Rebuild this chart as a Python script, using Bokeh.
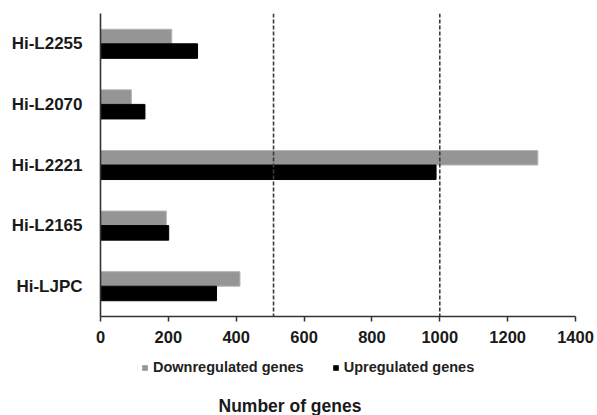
from bokeh.plotting import figure
from bokeh.layouts import column
from bokeh.models import (Range1d, FactorRange, Span, Legend, LegendItem, Title,
                          ColumnDataSource, FixedTicker)
from bokeh.transform import dodge
from bokeh.embed import file_html
from bokeh.resources import INLINE

strains = ["Hi-LJPC", "Hi-L2165", "Hi-L2221", "Hi-L2070", "Hi-L2255"]
downregulated = [411, 194, 1289, 91, 210]
upregulated = [342, 201, 989, 131, 286]
threshold_lines = [510, 1000]
x_ticks = [0, 200, 400, 600, 800, 1000, 1200, 1400]
series_names = ["Downregulated genes", "Upregulated genes"]
series_colors = ["#959595", "#000000"]

FONT = "Liberation Sans"

src = ColumnDataSource(dict(strain=strains, down=downregulated, up=upregulated))

p = figure(width=597, height=348, output_backend="svg", toolbar_location=None,
           y_range=FactorRange(*strains), x_range=Range1d(0, 1400),
           min_border_left=100, min_border_right=22, min_border_top=13,
           min_border_bottom=32)
p.outline_line_color = None
p.xgrid.visible = False
p.ygrid.visible = False

p.hbar(y=dodge("strain", 0.12, range=p.y_range), right="down", left=0,
       height=0.24, source=src, fill_color=series_colors[0], line_color="#b5b5b5",
       line_width=1)
p.hbar(y=dodge("strain", -0.12, range=p.y_range), right="up", left=0,
       height=0.24, source=src, fill_color=series_colors[1], line_color="#000000",
       line_width=1)

for loc in threshold_lines:
    p.add_layout(Span(location=loc, dimension="height", line_color="#3a3a3a",
                      line_width=1.6, line_dash="4 2"))

xa = p.xaxis[0]
xa.ticker = FixedTicker(ticks=x_ticks)
xa.axis_line_color = "#333333"
xa.axis_line_width = 1.6
xa.major_tick_line_color = "#333333"
xa.major_tick_line_width = 1.5
xa.major_tick_out = 5
xa.major_tick_in = 0
xa.minor_tick_line_color = None
xa.major_label_text_font = FONT
xa.major_label_text_font_style = "bold"
xa.major_label_text_font_size = "16.5px"
xa.major_label_text_color = "#1a1a1a"
xa.major_label_standoff = 9

ya = p.yaxis[0]
ya.axis_line_color = "#333333"
ya.axis_line_width = 1.6
ya.major_tick_line_color = None
ya.minor_tick_line_color = None
ya.major_label_text_font = FONT
ya.major_label_text_font_style = "bold"
ya.major_label_text_font_size = "17px"
ya.major_label_text_color = "#1a1a1a"
ya.major_label_standoff = 12

# legend + axis title strip (frame is aligned with the main plot's frame)
p2 = figure(width=597, height=67, output_backend="svg", toolbar_location=None,
            x_range=Range1d(0, 1), y_range=Range1d(0, 1),
            x_axis_location=None, y_axis_location=None,
            min_border_left=100, min_border_right=22, min_border_top=0,
            min_border_bottom=0)
p2.outline_line_color = None
p2.xgrid.visible = False
p2.ygrid.visible = False

# zero-length stand-in bars, used only to give the legend its swatches
swatch_src = ColumnDataSource(dict(y=[0.5], zero=[0]))
items = []
for name, col in zip(series_names, series_colors):
    r = p2.hbar(y="y", right="zero", left="zero", height=1, source=swatch_src,
                fill_color=col, line_color=None)
    items.append(LegendItem(label=name, renderers=[r]))

legend = Legend(items=items, orientation="horizontal", location=(41, 18),
                glyph_width=7, glyph_height=7, label_standoff=5, spacing=28,
                padding=0, margin=0, border_line_color=None,
                background_fill_alpha=0, label_height=14,
                label_text_font=FONT, label_text_font_style="bold",
                label_text_font_size="14.5px", label_text_color="#222222")
p2.add_layout(legend, "center")

title = Title(text="Number of genes", align="left", offset=118, standoff=0,
              text_font=FONT, text_font_style="bold", text_font_size="17.5px",
              text_color="#1a1a1a")
p2.add_layout(title, "below")

open("out.html", "w").write(file_html(column(p, p2, spacing=0), INLINE))
